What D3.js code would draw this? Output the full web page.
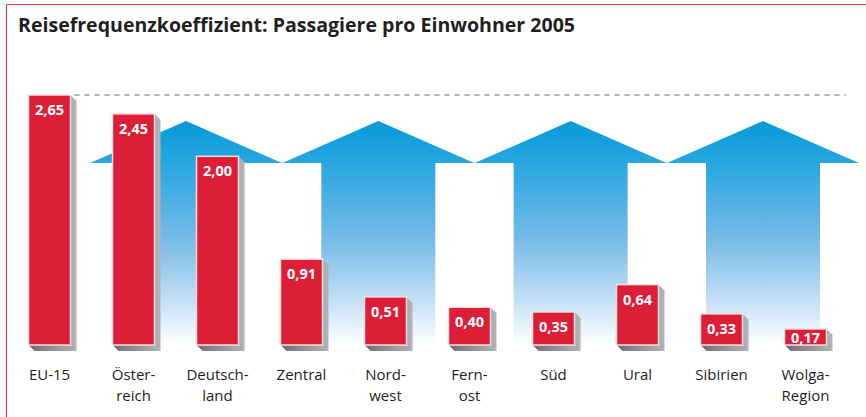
<!DOCTYPE html>
<html>
<head>
<meta charset="utf-8">
<script src="https://cdn.jsdelivr.net/npm/d3@7"></script>
<style>
  body { margin: 0; background: #fff; }
  svg { display: block; }
</style>
</head>
<body>
<div id="chart-area"></div>
<script>
var width = 866,
    height = 417;

// data
var regions = ["EU-15", "Österreich", "Deutschland", "Zentral", "Nordwest",
               "Fernost", "Süd", "Ural", "Sibirien", "Wolga-Region"];
var labelLines = [["EU-15"], ["Öster-", "reich"], ["Deutsch-", "land"], ["Zentral"],
                  ["Nord-", "west"], ["Fern-", "ost"], ["Süd"], ["Ural"],
                  ["Sibirien"], ["Wolga-", "Region"]];
var passengers = [2.65, 2.45, 2.00, 0.91, 0.51, 0.40, 0.35, 0.64, 0.33, 0.17];
var title = "Reisefrequenzkoeffizient: Passagiere pro Einwohner 2005";

var svg = d3.select("#chart-area").append("svg")
    .attr("width", width)
    .attr("height", height);

var defs = svg.append("defs");

var blue = defs.append("linearGradient")
    .attr("id", "arrowGrad")
    .attr("gradientUnits", "userSpaceOnUse")
    .attr("x1", 0).attr("y1", 121).attr("x2", 0).attr("y2", 345);
[[0, "#059ad8"], [0.2, "#2aa7e0"], [0.55, "#7bbde8"], [0.8, "#c3e0f4"], [1, "#ffffff"]]
    .forEach(function(s) {
        blue.append("stop").attr("offset", s[0]).attr("stop-color", s[1]);
    });

var grey = defs.append("linearGradient")
    .attr("id", "shadowGrad")
    .attr("x1", 0).attr("y1", 0).attr("x2", 1).attr("y2", 0);
grey.append("stop").attr("offset", 0).attr("stop-color", "#6d6e71");
grey.append("stop").attr("offset", 1).attr("stop-color", "#b3b4b7");

// frame lines
svg.append("line")
    .attr("x1", 6.5).attr("y1", 4.5).attr("x2", width).attr("y2", 4.5)
    .style("stroke", "#e23a52").style("stroke-width", 1.2);
svg.append("line")
    .attr("x1", 6.5).attr("y1", 4.5).attr("x2", 6.5).attr("y2", height)
    .style("stroke", "#e23a52").style("stroke-width", 1.2);

// title
svg.append("text")
    .attr("x", 18)
    .attr("y", 32)
    .attr("textLength", 557)
    .attr("lengthAdjust", "spacingAndGlyphs")
    .style("font-family", "'Open Sans', sans-serif")
    .style("font-weight", "bold")
    .style("font-size", "20px")
    .style("fill", "#231f20")
    .text(title);

// scales
var x = d3.scaleBand()
    .domain(regions)
    .range([7.5, 847.5])
    .paddingInner(0.5)
    .paddingOuter(0.25);

var y = d3.scaleLinear()
    .domain([0, 2.65])
    .range([345, 95]);

// background arrows
var arrowX = d3.scaleLinear().domain([0, 3]).range([186, 763]);
var arrowHalf = 96, shaftHalf = 57, tipY = 121, baseY = 163, arrowBottom = 345;

svg.selectAll(".arrow")
    .data([0, 1, 2, 3])
    .enter().append("path")
    .attr("class", "arrow")
    .attr("d", function(i) {
        var cx = arrowX(i);
        return "M" + (cx - arrowHalf) + "," + baseY +
               "L" + cx + "," + tipY +
               "L" + (cx + arrowHalf) + "," + baseY +
               "L" + (cx + shaftHalf) + "," + baseY +
               "L" + (cx + shaftHalf) + "," + arrowBottom +
               "L" + (cx - shaftHalf) + "," + arrowBottom +
               "L" + (cx - shaftHalf) + "," + baseY + "Z";
    })
    .style("fill", "url(#arrowGrad)");

// dashed reference line at max
svg.append("line")
    .attr("x1", x(regions[0]) + x.bandwidth() + 4)
    .attr("x2", 846)
    .attr("y1", y(passengers[0]))
    .attr("y2", y(passengers[0]))
    .style("stroke", "#b1b2b4")
    .style("stroke-width", 2)
    .style("stroke-dasharray", "5,5");

var off = 6;
var bars = svg.selectAll(".bar")
    .data(passengers)
    .enter().append("g")
    .attr("class", "bar");

// shadows
bars.append("path")
    .attr("d", function(d, i) {
        var x0 = x(regions[i]), x1 = x0 + x.bandwidth(), t = y(d), b = y(0);
        return "M" + x1 + "," + t +
               "L" + (x1 + off) + "," + (t + off) +
               "L" + (x1 + off) + "," + (b + off) +
               "L" + (x0 + off) + "," + (b + off) +
               "L" + x0 + "," + b + "Z";
    })
    .style("fill", "url(#shadowGrad)");

// bars
bars.append("rect")
    .attr("x", function(d, i) { return x(regions[i]); })
    .attr("y", function(d) { return y(d); })
    .attr("width", x.bandwidth())
    .attr("height", function(d) { return y(0) - y(d); })
    .style("fill", "#dc1f37")
    .style("stroke", "#f6dfe2")
    .style("stroke-width", 1.5);

// value labels
bars.append("text")
    .attr("x", function(d, i) { return x(regions[i]) + x.bandwidth() / 2; })
    .attr("y", function(d) { return y(d) + Math.min(20, y(0) - y(d) - 2); })
    .attr("text-anchor", "middle")
    .style("font-family", "'Open Sans', sans-serif")
    .style("font-weight", "bold")
    .style("font-size", "14.5px")
    .style("fill", "#fff")
    .text(function(d) { return d3.format(".2f")(d).replace(".", ","); });

// category labels, one text per line
labelLines.forEach(function(lines, i) {
    lines.forEach(function(line, j) {
        svg.append("text")
            .attr("class", "cat")
            .attr("text-anchor", "middle")
            .attr("x", x(regions[i]) + x.bandwidth() / 2)
            .attr("y", 380 + j * 20.5)
            .style("font-family", "'Open Sans', sans-serif")
            .style("font-size", "15px")
            .style("fill", "#231f20")
            .text(line);
    });
});
</script>
</body>
</html>
